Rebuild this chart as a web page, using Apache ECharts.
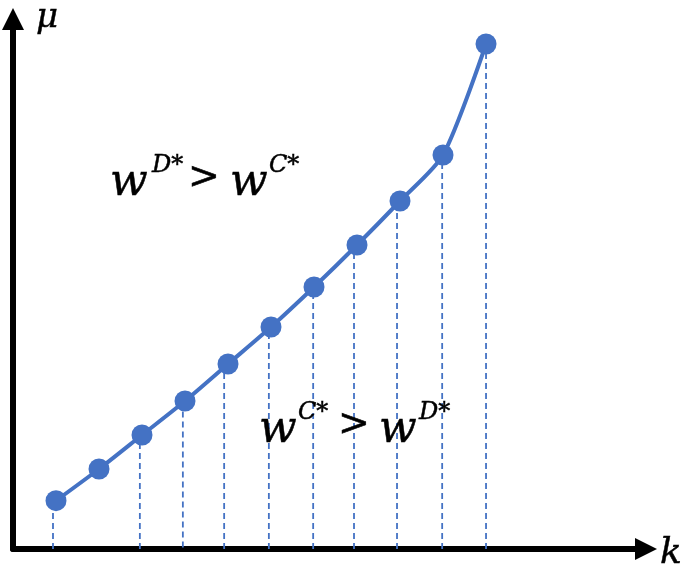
<!DOCTYPE html>
<html>
<head>
<meta charset="utf-8">
<script src="https://cdn.jsdelivr.net/npm/echarts@6/dist/echarts.min.js"></script>
<style>html,body{margin:0;padding:0;background:#fff}#c{width:685px;height:572px}</style>
</head>
<body>
<div id="c"></div>
<script>
// k positions (index) and mu values (one unit = 10 px)
const kValues = [1, 2, 3, 4, 5, 6, 7, 8, 9, 10, 11];
const muValues = [4.83, 8.0, 11.4, 14.8, 18.5, 22.2, 26.2, 30.4, 34.8, 39.4, 50.5];
// dashed drop lines: x, top value, bottom value
const dropX = [0.93, 2.95, 3.95, 4.91, 5.95, 6.98, 7.93, 8.93, 9.98, 11.0];
const dropTop = [4.83, 11.4, 14.8, 18.5, 22.2, 26.2, 30.4, 34.8, 39.4, 50.5];
const dropBottom = [0, 0, -0.85, 0, 0, 0, 0, 0, 0, 0];

const BLUE = '#4472C4';
const chart = echarts.init(document.getElementById('c'));

const series = [];
dropX.forEach((x, i) => {
  series.push({
    type: 'line', z: 1, silent: true, symbol: 'none',
    data: [[x, dropBottom[i]], [x, dropTop[i]]],
    lineStyle: { color: BLUE, width: 1.8, type: [6, 4] }
  });
});
series.push({
  type: 'line', z: 3, smooth: 0.25,
  data: kValues.map((k, i) => [k, muValues[i]]),
  symbol: 'circle', symbolSize: 21,
  itemStyle: { color: BLUE },
  lineStyle: { color: BLUE, width: 4 }
});

const serif = '"DejaVu Serif", serif';
function t(txt, x, y, size, opts) {
  return {
    type: 'text', x: x, y: y, z: 10,
    style: Object.assign({
      text: txt, x: 0, y: 0, fill: '#000', stroke: '#000', lineWidth: 0.5,
      font: 'italic ' + size + 'px ' + serif,
      textAlign: 'left', textVerticalAlign: 'middle'
    }, opts || {})
  };
}

chart.setOption({
  animation: false,
  grid: { left: 13, right: 39, top: 19, bottom: 23, containLabel: false },
  xAxis: {
    type: 'value', min: 0, max: 14.72,
    axisLine: { show: true, onZero: false, lineStyle: { color: '#000', width: 6 },
      symbol: ['none', 'triangle'], symbolSize: [22, 22] },
    axisTick: { show: false }, axisLabel: { show: false }, splitLine: { show: false }
  },
  yAxis: {
    type: 'value', min: 0, max: 53,
    axisLine: { show: true, onZero: false, lineStyle: { color: '#000', width: 6 },
      symbol: ['none', 'triangle'], symbolSize: [22, 22] },
    axisTick: { show: false }, axisLabel: { show: false }, splitLine: { show: false }
  },
  series: series,
  graphic: [
    t('μ', 36, 18, 34),
    t('k', 660, 554, 36),
    t('w', 110, 184, 44),
    t('D*', 152, 166, 24),
    t('>', 204, 178, 38, { font: '38px ' + serif, textAlign: 'center' }),
    t('w', 230, 184, 44),
    t('C*', 269, 166, 24),
    t('w', 259, 431, 44),
    t('C*', 298, 413, 24),
    t('>', 354, 425, 38, { font: '38px ' + serif, textAlign: 'center' }),
    t('w', 379, 431, 44),
    t('D*', 419, 413, 24)
  ]
});
</script>
</body>
</html>
